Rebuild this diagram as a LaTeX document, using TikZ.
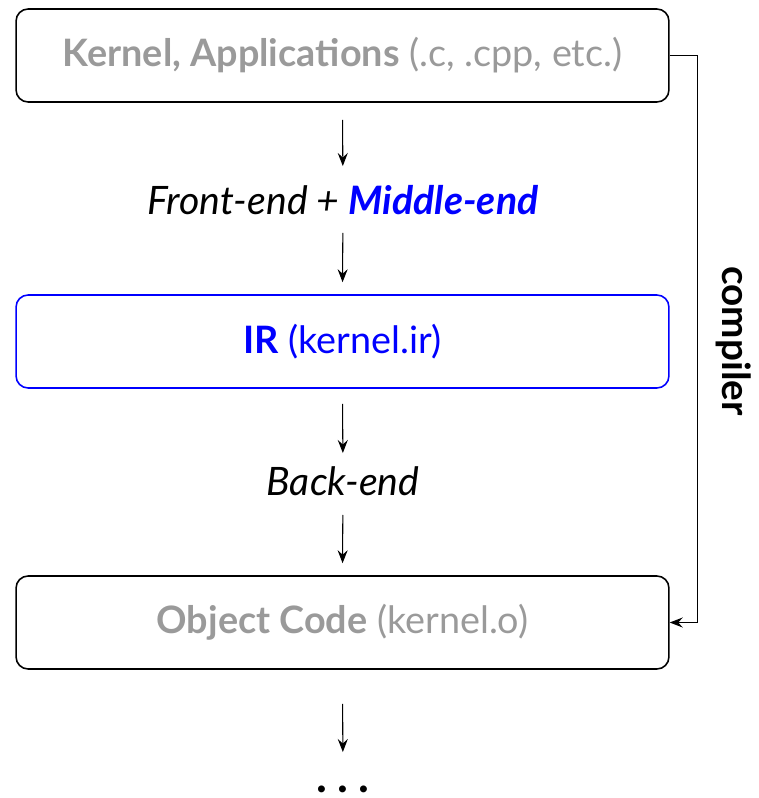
\documentclass[tikz,border=0pt]{standalone}
\usepackage{fontspec}
\setmainfont{Lato}
\usetikzlibrary{arrows.meta}
\definecolor{lightgray}{HTML}{9A9A9A}
\definecolor{irblue}{RGB}{0,0,255}

\begin{document}
\begin{tikzpicture}[
   x=0.02cm, y=-0.02cm,
   stage/.style={draw,rounded corners=0.24cm,line width=0.9pt,
      minimum width=13.06cm,minimum height=1.86cm,font=\fontsize{21.5}{25}\selectfont},
   graystage/.style={stage,text=lightgray},
   bluestage/.style={stage,draw=irblue,text=irblue},
   pass/.style={font=\fontsize{22.3}{26}\selectfont\itshape},
   flow/.style={line width=0.6pt,-{Stealth[length=2.6mm,width=2mm,inset=0.9mm]}}
]
   \useasboundingbox (0,0) rectangle (759,798);

   \node[graystage] (src) at (342.5,55.5)
      {\textbf{Kernel, Applications} (.c, .cpp, etc.)};
   \node[pass] (front) at (343,200)
      {Front-end + \textcolor{irblue}{\textbf{Middle-end}}};
   \node[bluestage] (ir) at (342.5,341.5) {\textbf{IR} (kernel.ir)};
   \node[pass] (back) at (343,481) {Back-end};
   \node[graystage] (obj) at (342.5,622.5)
      {\textbf{Object Code} (kernel.o)};
   \node[inner sep=0pt,font=\fontsize{26}{30}\selectfont\bfseries] (more) at (343,789) {.\hspace{0.2cm}.\hspace{0.2cm}.};

   \draw[flow,shorten <=0.34cm,shorten >=0.68cm] (src.south) -- (front.center);
   \draw[flow,shorten <=0.66cm,shorten >=0.24cm] (front.center) -- (ir.north);
   \draw[flow,shorten <=0.30cm,shorten >=0.56cm] (ir.south) -- (back.center);
   \draw[flow,shorten <=0.68cm,shorten >=0.24cm] (back.center) -- (obj.north);
   \draw[flow,shorten <=0.68cm,shorten >=0.74cm] (obj.south) -- (more.center);

   % compiler bracket on the right
   \draw[flow] (src.east) -- ++(28,0) |- (obj.east);
   \node[font=\fontsize{22}{26}\selectfont\bfseries,rotate=-90] (comp) at (734,341) {compiler};
\end{tikzpicture}
\end{document}
